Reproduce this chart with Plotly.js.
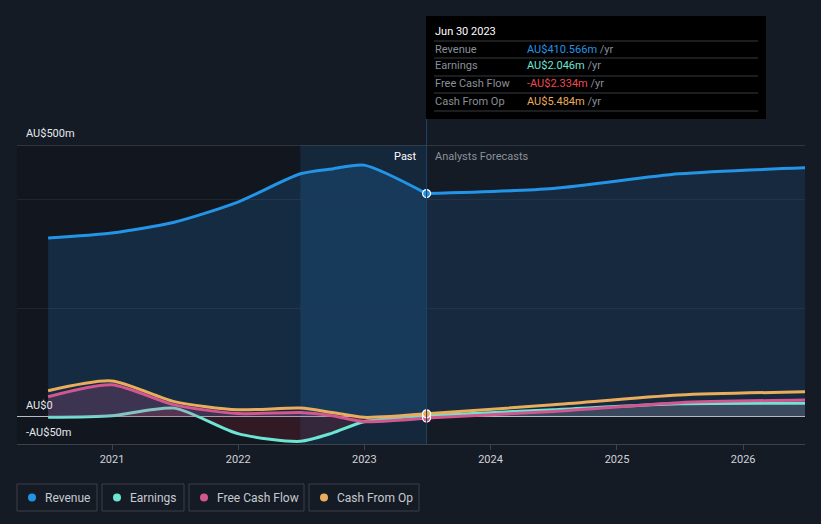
<!DOCTYPE html>
<html>
<head>
<meta charset="utf-8">
<script src="https://cdn.plot.ly/plotly-3.0.1.min.js"></script>
<style>
html,body{margin:0;padding:0;background:#151b25;}
#chart{width:821px;height:524px;}
</style>
</head>
<body>
<div id="chart"></div>
<script>
// ---- data ----
const pastDates = ["2020-06-30","2020-12-31","2021-06-30","2021-12-31","2022-06-30","2022-09-30","2022-12-31","2023-06-30"];
const forecastDates = ["2023-06-30","2024-06-30","2025-06-30","2026-06-30"];

const revenuePast = [329, 338, 358, 395, 447, 456, 463, 410.566];
const revenueForecast = [410.566, 420, 447, 458];

const earningsPast = [-1, 2, 16, -31, -45, -30, -9, 2.046];
const earningsForecast = [2.046, 13, 24, 25];

const fcfPast = [37, 59, 22, 6, 8, 2, -9, -2.334];
const fcfForecast = [-2.334, 10, 26, 31];

const cfoPast = [48, 66, 28, 13, 16, 8, -1, 5.484];
const cfoForecast = [5.484, 22, 40, 46];

const xTickVals = ["2021-01-01","2022-01-01","2023-01-01","2024-01-01","2025-01-01","2026-01-01"];
const xTickText = ["2021","2022","2023","2024","2025","2026"];
const yLabelVals = [500, 0, -50];
const yLabelText = ["AU$500m","AU$0","-AU$50m"];

const seriesNames = ["Revenue","Earnings","Free Cash Flow","Cash From Op"];
const seriesColors = ["#2394e6","#6ce5d3","#d2568f","#e9ad5c"];

const tooltipDate = "Jun 30 2023";
const tooltipValues = ["AU$410.566m","AU$2.046m","-AU$2.334m","AU$5.484m"];
const tooltipValueColors = ["#2394e6","#6ce5d3","#ef4a4f","#e9ad5c"];

const pastStart = "2022-06-30";
const nowDate = "2023-06-30";

// ---- layout helpers (pixel -> paper) ----
const L = 17, R = 805, T = 145, B = 444;
const px = x => (x - L) / (R - L);
const py = y => (B - y) / (B - T);

const font = "Roboto, 'Open Sans', Arial, sans-serif";

function line(x, y, color, fill, fillcolor, name) {
  return {x: x, y: y, type: "scatter", mode: "lines", name: name,
    line: {color: color, width: 3, shape: "spline", smoothing: 0.7},
    fill: fill || "none", fillcolor: fillcolor || "rgba(0,0,0,0)",
    hoverinfo: "skip", showlegend: false};
}

const traces = [
  line(pastDates, revenuePast, seriesColors[0], "tozeroy", "rgba(33,150,243,0.17)", "Revenue"),
  line(forecastDates, revenueForecast, seriesColors[0], "tozeroy", "rgba(33,150,243,0.12)", "Revenue"),
  line(pastDates, earningsPast, seriesColors[1], "tozeroy", "rgba(170,40,55,0.22)", "Earnings"),
  line(forecastDates, earningsForecast, seriesColors[1], "tozeroy", "rgba(200,200,215,0.10)", "Earnings"),
  line(pastDates, fcfPast, seriesColors[2], "tozeroy", "rgba(210,86,143,0.22)", "Free Cash Flow"),
  line(forecastDates, fcfForecast, seriesColors[2], "tozeroy", "rgba(200,200,215,0.12)", "Free Cash Flow"),
  line(pastDates, cfoPast, seriesColors[3], "none", null, "Cash From Op"),
  line(forecastDates, cfoForecast, seriesColors[3], "none", null, "Cash From Op"),
  {x: [nowDate, nowDate, nowDate], y: [revenuePast[revenuePast.length - 1], fcfPast[fcfPast.length - 1], cfoPast[cfoPast.length - 1]],
   type: "scatter", mode: "markers", hoverinfo: "skip", showlegend: false,
   marker: {size: 8, color: [seriesColors[0], seriesColors[2], seriesColors[3]], line: {color: "#ffffff", width: 1.2}}}
];

const shapes = [
  // darker past region
  {type: "rect", xref: "paper", yref: "paper", x0: 0, x1: px(300), y0: 0, y1: 1, fillcolor: "rgba(0,0,0,0.16)", line: {width: 0}, layer: "below"},
  // highlighted last-year band
  {type: "rect", xref: "x", yref: "paper", x0: pastStart, x1: nowDate, y0: 0, y1: 1, fillcolor: "rgba(22,75,125,0.26)", line: {width: 0}, layer: "below"},
  // top line
  {type: "line", xref: "paper", yref: "y", x0: 0, x1: 1, y0: 500, y1: 500, line: {color: "#4d525b", width: 1}},
  // now vertical line
  {type: "line", xref: "x", yref: "paper", x0: nowDate, x1: nowDate, y0: 0, y1: py(16), line: {color: "#1d4466", width: 1}},
  // tooltip box
  {type: "rect", xref: "paper", yref: "paper", x0: px(426), x1: px(766), y0: py(119), y1: py(16), fillcolor: "#000000", line: {width: 0}}
];
[41, 58, 76, 93, 111].forEach(y => shapes.push({type: "line", xref: "paper", yref: "paper", x0: px(434), x1: px(758), y0: py(y), y1: py(y), line: {color: "#383b40", width: 1}}));

const annotations = [];
yLabelVals.forEach((v, i) => annotations.push({xref: "paper", yref: "y", x: px(24), y: v, xanchor: "left", yanchor: "bottom", yshift: 3,
  text: yLabelText[i], showarrow: false, font: {family: font, size: 11, color: "#e6e8eb"}}));

annotations.push({xref: "paper", yref: "paper", x: px(419), y: py(156), xanchor: "right", yanchor: "middle", text: "Past", showarrow: false, font: {family: font, size: 11, color: "#ffffff"}});
annotations.push({xref: "paper", yref: "paper", x: px(433), y: py(156), xanchor: "left", yanchor: "middle", text: "Analysts Forecasts", showarrow: false, font: {family: font, size: 11, color: "#8a9099"}});

// tooltip text
annotations.push({xref: "paper", yref: "paper", x: px(433), y: py(31), xanchor: "left", yanchor: "middle", text: tooltipDate, showarrow: false, font: {family: font, size: 11, color: "#ffffff"}});
const rowY = [49, 66, 84, 101];
seriesNames.forEach((n, i) => {
  annotations.push({xref: "paper", yref: "paper", x: px(433), y: py(rowY[i]), xanchor: "left", yanchor: "middle", text: n, showarrow: false, font: {family: font, size: 11, color: "#8a8f98"}});
  annotations.push({xref: "paper", yref: "paper", x: px(525), y: py(rowY[i]), xanchor: "left", yanchor: "middle",
    text: '<span style="color:' + tooltipValueColors[i] + '">' + tooltipValues[i] + '</span> /yr', showarrow: false, font: {family: font, size: 11, color: "#8a8f98"}});
});

// legend boxes
const legBoxes = [[17, 97], [102, 184], [189, 304], [309, 419]];
legBoxes.forEach((b, i) => {
  shapes.push({type: "rect", xref: "paper", yref: "paper", x0: px(b[0]), x1: px(b[1]), y0: py(511), y1: py(484), line: {color: "#3a3f48", width: 1}, fillcolor: "rgba(0,0,0,0)"});
  shapes.push({type: "circle", xref: "paper", yref: "paper", x0: px(b[0] + 11), x1: px(b[0] + 19), y0: py(501.5), y1: py(493.5), fillcolor: seriesColors[i], line: {width: 0}});
  annotations.push({xref: "paper", yref: "paper", x: px(b[0] + 26), y: py(497.5), xanchor: "left", yanchor: "middle",
    text: seriesNames[i], showarrow: false, font: {family: font, size: 12, color: "#c6cad0"}});
});

const layout = {
  width: 821, height: 524,
  margin: {l: L, r: 821 - R, t: T, b: 524 - B, pad: 0},
  paper_bgcolor: "#151b25", plot_bgcolor: "#151b25",
  showlegend: false,
  xaxis: {type: "date", range: ["2020-04-01", "2026-06-29"], tickvals: xTickVals, ticktext: xTickText,
    showgrid: false, zeroline: false, showline: true, linecolor: "#3d424b", linewidth: 1,
    ticks: "outside", ticklen: 5, tickcolor: "#3d424b", tickfont: {family: font, size: 11, color: "#d0d3d8"}, fixedrange: true},
  yaxis: {range: [-50, 500], tickvals: [200, 400], showticklabels: false, showgrid: true, gridcolor: "#20262f", gridwidth: 1,
    zeroline: true, zerolinecolor: "#b8bcc2", zerolinewidth: 1, showline: false, fixedrange: true},
  shapes: shapes,
  annotations: annotations,
  font: {family: font}
};

Plotly.newPlot("chart", traces, layout, {displayModeBar: false, staticPlot: true});
</script>
</body>
</html>
